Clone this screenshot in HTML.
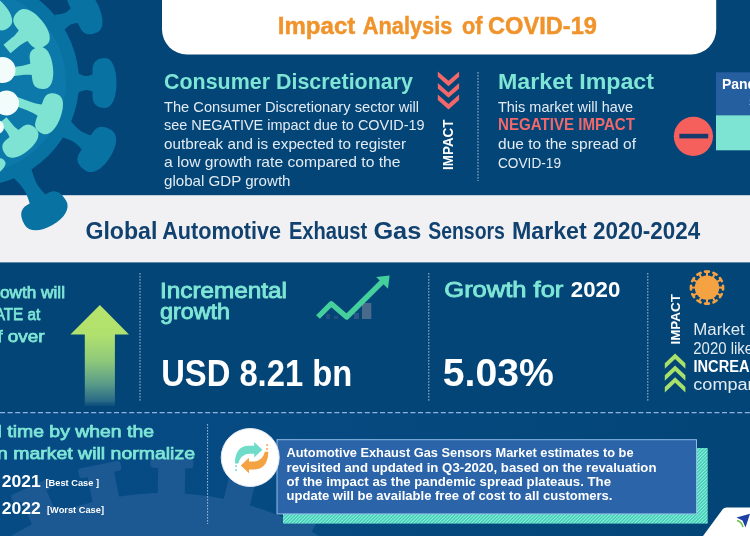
<!DOCTYPE html>
<html lang="en">
<head>
<meta charset="utf-8">
<title>Impact Analysis of COVID-19 - Global Automotive Exhaust Gas Sensors Market 2020-2024</title>
<style>
  html, body { margin: 0; padding: 0; background: #034577; }
  body { width: 750px; height: 536px; overflow: hidden; }
  svg { display: block; }
  text { font-family: "Liberation Sans", sans-serif; }
  .b { font-weight: bold; }
  .aq { fill: #7fe6d6; }
  .w { fill: #ffffff; }
  .sb { stroke: #7fe6d6; stroke-width: 0.75px; }
  .body { fill: #e3ebf3; font-size: 14.5px; }
  .body2 { fill: #e3ebf3; font-size: 16px; }
</style>
</head>
<body>
<svg width="750" height="536" viewBox="0 0 750 536">
  <defs>
    <linearGradient id="arrowG" x1="0" y1="0" x2="0" y2="1">
      <stop offset="0" stop-color="#b7e46a"/>
      <stop offset="0.3" stop-color="#b0e06e"/>
      <stop offset="0.55" stop-color="#8fc97a"/>
      <stop offset="0.78" stop-color="#5a9c88"/>
      <stop offset="0.95" stop-color="#2c6c88" stop-opacity="0.95"/>
      <stop offset="1" stop-color="#1f5f85" stop-opacity="0.3"/>
    </linearGradient>
    <linearGradient id="botG" x1="0" y1="0" x2="1" y2="0">
      <stop offset="0" stop-color="#074b85"/>
      <stop offset="0.4" stop-color="#064a82"/>
      <stop offset="0.75" stop-color="#04477a"/>
      <stop offset="1" stop-color="#034577"/>
    </linearGradient>
    <pattern id="hatch" width="2.4" height="2.4" patternUnits="userSpaceOnUse" patternTransform="rotate(45)">
      <rect width="2.4" height="2.4" fill="#3fcfb6"/>
      <rect width="0.9" height="2.4" fill="#9af0e0"/>
    </pattern>
  </defs>

  <!-- backgrounds -->
  <rect x="0" y="0" width="750" height="195" fill="#034577"/>
  <rect x="0" y="263" width="750" height="149" fill="#034577"/>
  <rect x="0" y="412" width="750" height="124" fill="#034577"/>
  <rect x="0" y="412" width="750" height="124" fill="url(#botG)"/>


  <!-- light band -->
  <rect x="0" y="195.2" width="750" height="67.2" fill="#f1f1f3"/>

  <!-- SECTION: virus top-left -->
  <g id="virus">
    <circle cx="-25" cy="82" r="104" fill="#0872a3"/>
    <path transform="translate(55.0 25.0) rotate(-25.8)" d="M4.3 -9.4 C10.5 -6.5 14.5 -6.5 14.5 -6.5 C14.5 -6.5 18.6 -6.5 24.7 -9.4 L24.7 9.4 C18.6 6.5 14.5 6.5 14.5 6.5 C14.5 6.5 10.5 6.5 4.3 9.4 Z M0 -6.5 H14.5 V6.5 H0 Z M21.4 -12.5 C21.4 -22.0 27.3 -25.0 35.1 -25.0 C42.5 -25.0 47.4 -15.0 47.4 0.0 C47.4 15.0 42.5 25.0 35.1 25.0 C27.3 25.0 21.4 22.0 21.4 12.5 Z" fill="#0872a3"/>
    <path transform="translate(70.0 83.0) rotate(0.0)" d="M7.5 -10.1 C12.9 -7.0 16.5 -7.0 16.5 -7.0 C16.5 -7.0 20.1 -7.0 25.5 -10.1 L25.5 10.1 C20.1 7.0 16.5 7.0 16.5 7.0 C16.5 7.0 12.9 7.0 7.5 10.1 Z M0 -7.0 H16.5 V7.0 H0 Z M22.5 -12.5 C22.5 -22.0 27.9 -25.0 35.1 -25.0 C41.9 -25.0 46.5 -15.0 46.5 0.0 C46.5 15.0 41.9 25.0 35.1 25.0 C27.9 25.0 22.5 22.0 22.5 12.5 Z" fill="#0872a3"/>
    <path transform="translate(55.0 122.0) rotate(33.1)" d="M13.1 -9.4 C21.4 -6.5 27.0 -6.5 27.0 -6.5 C27.0 -6.5 32.5 -6.5 40.8 -9.4 L40.8 9.4 C32.5 6.5 27.0 6.5 27.0 6.5 C27.0 6.5 21.4 6.5 13.1 9.4 Z M0 -6.5 H27.0 V6.5 H0 Z M37.3 -12.0 C37.3 -21.1 43.6 -24.0 52.0 -24.0 C60.0 -24.0 65.3 -14.4 65.3 0.0 C65.3 14.4 60.0 24.0 52.0 24.0 C43.6 24.0 37.3 21.1 37.3 12.0 Z" fill="#0872a3"/>
    <path transform="translate(15.0 160.0) rotate(60.0)" d="M14.9 -10.1 C25.0 -7.0 31.8 -7.0 31.8 -7.0 C31.8 -7.0 38.6 -7.0 48.8 -10.1 L48.8 10.1 C38.6 7.0 31.8 7.0 31.8 7.0 C31.8 7.0 25.0 7.0 14.9 10.1 Z M0 -7.0 H31.8 V7.0 H0 Z M45.0 -12.0 C45.0 -21.1 51.8 -24.0 60.8 -24.0 C69.3 -24.0 75.0 -14.4 75.0 0.0 C75.0 14.4 69.3 24.0 60.8 24.0 C51.8 24.0 45.0 21.1 45.0 12.0 Z" fill="#0872a3"/>
    <circle cx="-25" cy="82" r="91" fill="#0d79aa"/>
    <path transform="translate(7.0 49.0) rotate(-39.5)" d="M0 -5.5 H12.0 C12.0 -5.5 16.8 -5.5 24.0 -7.9 L24.0 7.9 C16.8 5.5 12.0 5.5 12.0 5.5 H0 Z M21.0 -11.0 C21.0 -19.4 26.4 -22.0 33.6 -22.0 C40.5 -22.0 45.0 -13.2 45.0 0.0 C45.0 13.2 40.5 22.0 33.6 22.0 C26.4 22.0 21.0 19.4 21.0 11.0 Z" fill="#7ee3d3"/>
    <path transform="translate(10.0 72.0) rotate(-7.1)" d="M0 -4.5 H12.0 C12.0 -4.5 16.8 -4.5 24.0 -6.5 L24.0 6.5 C16.8 4.5 12.0 4.5 12.0 4.5 H0 Z M21.2 -10.5 C21.2 -18.5 26.2 -21.0 32.8 -21.0 C39.1 -21.0 43.2 -12.6 43.2 0.0 C43.2 12.6 39.1 21.0 32.8 21.0 C26.2 21.0 21.2 18.5 21.2 10.5 Z" fill="#7ee3d3"/>
    <path transform="translate(15.0 101.0) rotate(20.4)" d="M0 -4.5 H14.5 C14.5 -4.5 20.4 -4.5 29.1 -6.5 L29.1 6.5 C20.4 4.5 14.5 4.5 14.5 4.5 H0 Z M26.3 -10.5 C26.3 -18.5 31.3 -21.0 37.9 -21.0 C44.2 -21.0 48.3 -12.6 48.3 0.0 C48.3 12.6 44.2 21.0 37.9 21.0 C31.3 21.0 26.3 18.5 26.3 10.5 Z" fill="#7ee3d3"/>
    <path transform="translate(3.0 120.0) rotate(50.7)" d="M0 -4.5 H10.1 C10.1 -4.5 14.1 -4.5 20.2 -6.5 L20.2 6.5 C14.1 4.5 10.1 4.5 10.1 4.5 H0 Z M17.4 -10.0 C17.4 -17.6 22.4 -20.0 29.0 -20.0 C35.2 -20.0 39.4 -12.0 39.4 0.0 C39.4 12.0 35.2 20.0 29.0 20.0 C22.4 20.0 17.4 17.6 17.4 10.0 Z" fill="#7ee3d3"/>
    <path transform="translate(-24.0 30.0) rotate(-42.0)" d="M0 -4.5 H9.3 C9.3 -4.5 13.1 -4.5 18.7 -6.5 L18.7 6.5 C13.1 4.5 9.3 4.5 9.3 4.5 H0 Z M15.9 -10.0 C15.9 -17.6 20.9 -20.0 27.5 -20.0 C33.7 -20.0 37.9 -12.0 37.9 0.0 C37.9 12.0 33.7 20.0 27.5 20.0 C20.9 20.0 15.9 17.6 15.9 10.0 Z" fill="#7ee3d3"/>
    <path transform="translate(-18.0 150.0) rotate(54.2)" d="M0 -4.0 H8.9 C8.9 -4.0 12.4 -4.0 17.7 -5.8 L17.7 5.8 C12.4 4.0 8.9 4.0 8.9 4.0 H0 Z M16.2 -6.0 C16.2 -10.6 18.9 -12.0 22.5 -12.0 C25.9 -12.0 28.2 -7.2 28.2 0.0 C28.2 7.2 25.9 12.0 22.5 12.0 C18.9 12.0 16.2 10.6 16.2 6.0 Z" fill="#7ee3d3"/>
    <circle cx="2.5" cy="70" r="13" fill="#f2fcfa"/>
    <circle cx="6.5" cy="103" r="12.5" fill="#f2fcfa"/>
    <circle cx="-3" cy="127" r="7" fill="#f2fcfa"/>
  </g>

  <!-- white title box -->
  <path d="M162 0 H716.2 V29.5 A25 25 0 0 1 691.2 54.5 H187 A25 25 0 0 1 162 29.5 Z" fill="#ffffff"/>
  <text y="34" class="b" font-size="24" fill="#f0932b" stroke="#f0932b" stroke-width="0.45"><tspan x="277.8" textLength="77.5" lengthAdjust="spacingAndGlyphs">Impact</tspan> <tspan x="362.8" textLength="89.5" lengthAdjust="spacingAndGlyphs">Analysis</tspan> <tspan x="462" textLength="20.5" lengthAdjust="spacingAndGlyphs">of</tspan> <tspan x="488" textLength="109" lengthAdjust="spacingAndGlyphs">COVID-19</tspan></text>

  <!-- SECTION: top text -->
  <g id="top">
    <text x="164" y="89.2" class="b aq" font-size="22.2" textLength="249" lengthAdjust="spacingAndGlyphs">Consumer Discretionary</text>
    <text x="164" y="111.5" class="body" textLength="255" lengthAdjust="spacingAndGlyphs">The Consumer Discretionary sector will</text>
    <text x="164" y="130" class="body" textLength="260.5" lengthAdjust="spacingAndGlyphs">see NEGATIVE impact due to COVID-19</text>
    <text x="164" y="148.5" class="body" textLength="242" lengthAdjust="spacingAndGlyphs">outbreak and is expected to register</text>
    <text x="164" y="167" class="body" textLength="236.5" lengthAdjust="spacingAndGlyphs">a low growth rate compared to the</text>
    <text x="164" y="185.5" class="body" textLength="126.5" lengthAdjust="spacingAndGlyphs">global GDP growth</text>

    <!-- red chevrons down -->
    <g fill="#f2686a">
      <path d="M437.8 71.4 L448.5 80.8 L459.1 71.4 V76.8 L448.5 86.2 L437.8 76.8 Z"/>
      <path d="M437.8 83.0 L448.5 92.4 L459.1 83.0 V88.4 L448.5 97.8 L437.8 88.4 Z"/>
      <path d="M437.8 94.6 L448.5 104.0 L459.1 94.6 V100.0 L448.5 109.4 L437.8 100.0 Z"/>
    </g>
    <text transform="translate(452.8 170) rotate(-90)" class="b w" font-size="14.5" textLength="50.5" lengthAdjust="spacingAndGlyphs">IMPACT</text>
    <line x1="478" y1="72" x2="478" y2="181" stroke="#9fb8d4" stroke-width="1" stroke-dasharray="1.7 1.3"/>

    <text x="498" y="89.2" class="b aq" font-size="22.2" textLength="156" lengthAdjust="spacingAndGlyphs">Market Impact</text>
    <text x="498" y="111.5" class="body" textLength="135" lengthAdjust="spacingAndGlyphs">This market will have</text>
    <text x="498" y="130.2" class="b" font-size="16.5" fill="#f2686a" textLength="137" lengthAdjust="spacingAndGlyphs">NEGATIVE IMPACT</text>
    <text x="498" y="148.9" class="body" textLength="138" lengthAdjust="spacingAndGlyphs">due to the spread of</text>
    <text x="498" y="167.6" class="body" textLength="63" lengthAdjust="spacingAndGlyphs">COVID-19</text>

    <!-- minus icon -->
    <circle cx="693.4" cy="136.3" r="19.6" fill="#f5605d"/>
    <rect x="679.4" y="133.8" width="28.8" height="4.6" fill="#163a6b"/>

    <!-- pandemic box -->
    <rect x="716" y="72.3" width="34" height="43" fill="#255fa0"/>
    <rect x="716" y="115.3" width="34" height="35" fill="#7de3d3"/>
    <text x="722" y="89.2" class="b w" font-size="14" textLength="66" lengthAdjust="spacingAndGlyphs">Pandemic</text>
    <text x="749" y="106" class="b w" font-size="14">status</text>
  </g>

  <!-- SECTION: band title -->
  <text y="238.6" class="b" font-size="23.5" fill="#10416f"><tspan x="85.4" textLength="72.0" lengthAdjust="spacingAndGlyphs">Global</tspan> <tspan x="162.2" textLength="118.9" lengthAdjust="spacingAndGlyphs">Automotive</tspan> <tspan x="288.9" textLength="78.4" lengthAdjust="spacingAndGlyphs">Exhaust</tspan> <tspan x="373.4" textLength="47.9" lengthAdjust="spacingAndGlyphs">Gas</tspan> <tspan x="428.2" textLength="76.7" lengthAdjust="spacingAndGlyphs">Sensors</tspan> <tspan x="511.9" textLength="74.9" lengthAdjust="spacingAndGlyphs">Market</tspan> <tspan x="593.0" textLength="107.2" lengthAdjust="spacingAndGlyphs">2020-2024</tspan></text>

  <!-- SECTION: middle -->
  <g id="mid">
    <text x="65" y="297.5" text-anchor="end" class="aq sb" font-size="17" textLength="80.4" lengthAdjust="spacingAndGlyphs">growth will</text>
    <text x="40.2" y="319.6" text-anchor="end" class="aq sb" font-size="17" textLength="117.7" lengthAdjust="spacingAndGlyphs">DECELERATE at</text>
    <text x="44.5" y="341.6" text-anchor="end" class="aq sb" font-size="17" textLength="133.5" lengthAdjust="spacingAndGlyphs">a CAGR of over</text>

    <!-- big green arrow -->
    <path d="M99.9 305 L129 334.6 H114.9 V406 H84.8 V334.6 H70.4 Z" fill="url(#arrowG)"/>

    <line x1="140" y1="273" x2="140" y2="402" stroke="#9fb8d4" stroke-width="1" stroke-dasharray="1.7 1.3"/>
    <line x1="428.8" y1="273" x2="428.8" y2="402" stroke="#9fb8d4" stroke-width="1" stroke-dasharray="1.7 1.3"/>
    <line x1="647.8" y1="273" x2="647.8" y2="402" stroke="#9fb8d4" stroke-width="1" stroke-dasharray="1.7 1.3"/>
    <line x1="0" y1="412.6" x2="750" y2="412.6" stroke="#8fb5dc" stroke-width="1.4" stroke-dasharray="5 2.6"/>

    <text x="160" y="298" class="aq" font-size="22" textLength="127" lengthAdjust="spacingAndGlyphs" stroke="#7fe6d6" stroke-width="0.9">Incremental</text>
    <text x="160" y="319.2" class="aq" font-size="22" textLength="70" lengthAdjust="spacingAndGlyphs" stroke="#7fe6d6" stroke-width="0.9">growth</text>
    <text x="161.2" y="386.3" class="b w" font-size="36.5" textLength="191" lengthAdjust="spacingAndGlyphs">USD 8.21 bn</text>

    <!-- trend icon -->
    <rect x="362" y="303" width="9.3" height="16" fill="#4a6a8c"/>
    <rect x="326" y="314" width="4" height="5" fill="#23517f"/>
    <rect x="334" y="316" width="4" height="3" fill="#23517f"/>
    <rect x="354" y="313" width="5" height="6" fill="#2b5783"/>
    <path d="M318 317 L331.3 303.7 L346.7 317 L383 281" fill="none" stroke="#45cf9c" stroke-width="5.3" stroke-linejoin="round"/>
    <path d="M389.6 275.4 L376.2 277 L388 288.8 Z" fill="#45cf9c"/>

    <text x="444.3" y="297" class="aq" font-size="22.5" textLength="119" lengthAdjust="spacingAndGlyphs" stroke="#7fe6d6" stroke-width="0.9">Growth for</text>
    <text x="570.8" y="297" class="b w" font-size="22.5" textLength="49.5" lengthAdjust="spacingAndGlyphs">2020</text>
    <text x="442.8" y="386.3" class="b w" font-size="38" textLength="111" lengthAdjust="spacingAndGlyphs">5.03%</text>

    <!-- orange virus icon -->
    <g id="ovirus" fill="#f5a243" stroke="#f5a243">
      <circle cx="707" cy="287.6" r="12.2" stroke="none"/>
      <line x1="707.0" y1="276.6" x2="707.0" y2="272.0" stroke-width="2"/>
      <line x1="705.1" y1="271.6" x2="708.9" y2="271.6" stroke-width="2.6" stroke-linecap="round"/>
      <line x1="712.5" y1="278.1" x2="714.8" y2="274.1" stroke-width="2"/>
      <line x1="713.4" y1="272.8" x2="716.6" y2="274.7" stroke-width="2.6" stroke-linecap="round"/>
      <line x1="716.5" y1="282.1" x2="720.5" y2="279.8" stroke-width="2"/>
      <line x1="719.9" y1="278.0" x2="721.8" y2="281.2" stroke-width="2.6" stroke-linecap="round"/>
      <line x1="718.0" y1="287.6" x2="722.6" y2="287.6" stroke-width="2"/>
      <line x1="723.0" y1="285.7" x2="723.0" y2="289.5" stroke-width="2.6" stroke-linecap="round"/>
      <line x1="716.5" y1="293.1" x2="720.5" y2="295.4" stroke-width="2"/>
      <line x1="721.8" y1="294.0" x2="719.9" y2="297.2" stroke-width="2.6" stroke-linecap="round"/>
      <line x1="712.5" y1="297.1" x2="714.8" y2="301.1" stroke-width="2"/>
      <line x1="716.6" y1="300.5" x2="713.4" y2="302.4" stroke-width="2.6" stroke-linecap="round"/>
      <line x1="707.0" y1="298.6" x2="707.0" y2="303.2" stroke-width="2"/>
      <line x1="708.9" y1="303.6" x2="705.1" y2="303.6" stroke-width="2.6" stroke-linecap="round"/>
      <line x1="701.5" y1="297.1" x2="699.2" y2="301.1" stroke-width="2"/>
      <line x1="700.6" y1="302.4" x2="697.4" y2="300.5" stroke-width="2.6" stroke-linecap="round"/>
      <line x1="697.5" y1="293.1" x2="693.5" y2="295.4" stroke-width="2"/>
      <line x1="694.1" y1="297.2" x2="692.2" y2="294.0" stroke-width="2.6" stroke-linecap="round"/>
      <line x1="696.0" y1="287.6" x2="691.4" y2="287.6" stroke-width="2"/>
      <line x1="691.0" y1="289.5" x2="691.0" y2="285.7" stroke-width="2.6" stroke-linecap="round"/>
      <line x1="697.5" y1="282.1" x2="693.5" y2="279.8" stroke-width="2"/>
      <line x1="692.2" y1="281.2" x2="694.1" y2="278.0" stroke-width="2.6" stroke-linecap="round"/>
      <line x1="701.5" y1="278.1" x2="699.2" y2="274.1" stroke-width="2"/>
      <line x1="697.4" y1="274.7" x2="700.6" y2="272.8" stroke-width="2.6" stroke-linecap="round"/>
    </g>

    <text transform="translate(679.8 344.6) rotate(-90)" class="b w" font-size="13.3" textLength="50.6" lengthAdjust="spacingAndGlyphs">IMPACT</text>
    <g fill="#a8e06a">
      <path d="M675.1 353.5 L685.4 363.3 V368.8 L675.1 359.0 L664.8 368.8 V363.3 Z"/>
      <path d="M675.1 365.4 L685.4 375.2 V380.7 L675.1 370.9 L664.8 380.7 V375.2 Z"/>
      <path d="M675.1 377.3 L685.4 387.1 V392.6 L675.1 382.8 L664.8 392.6 V387.1 Z"/>
    </g>
    <text x="693.3" y="335.1" class="body2" textLength="124.5" lengthAdjust="spacingAndGlyphs">Market growth in</text>
    <text x="693.3" y="353.8" class="body2" textLength="108.0" lengthAdjust="spacingAndGlyphs">2020 likely to be</text>
    <text x="693.5" y="372" class="b w" font-size="16" textLength="91.7" lengthAdjust="spacingAndGlyphs">INCREASING</text>
    <text x="693.3" y="389.5" class="body2" textLength="100.5" lengthAdjust="spacingAndGlyphs">compared to</text>
  </g>

  <!-- SECTION: bottom -->
  <g id="bot">
    <!-- faint virus silhouette -->
    <g id="ghost" fill="#1c5992">
      <circle cx="165" cy="790" r="297"/>
      <g transform="rotate(-37 165 790)"><rect x="151.5" y="464" width="27" height="34"/><rect x="143.5" y="458" width="43" height="10" rx="3"/></g>
      <g transform="rotate(-24 165 790)"><rect x="151.5" y="464" width="27" height="34"/><rect x="143.5" y="458" width="43" height="10" rx="3"/></g>
      <g transform="rotate(-11.5 165 790)"><rect x="151.5" y="464" width="27" height="34"/><rect x="143.5" y="458" width="43" height="10" rx="3"/></g>
      <g transform="rotate(1.2 165 790)"><rect x="151.5" y="464" width="27" height="34"/><rect x="143.5" y="458" width="43" height="10" rx="3"/></g>
      <g transform="rotate(14 165 790)"><rect x="151.5" y="464" width="27" height="34"/><rect x="143.5" y="458" width="43" height="10" rx="3"/></g>
      <g transform="rotate(27 165 790)"><rect x="151.5" y="464" width="27" height="34"/><rect x="143.5" y="458" width="43" height="10" rx="3"/></g>
    </g>

    <text x="154" y="437" text-anchor="end" class="aq sb" font-size="17" textLength="238.4" lengthAdjust="spacingAndGlyphs">Estimated time by when the</text>
    <text x="195" y="458.5" text-anchor="end" class="aq sb" font-size="17" textLength="331.2" lengthAdjust="spacingAndGlyphs">pandemic-driven market will normalize</text>
    <text x="1.8" y="487" class="b w" font-size="17" textLength="39" lengthAdjust="spacingAndGlyphs">2021</text>
    <text x="45.5" y="485.5" class="b w" font-size="9.5" textLength="53.5" lengthAdjust="spacingAndGlyphs">[Best Case ]</text>
    <text x="1.8" y="514" class="b w" font-size="17" textLength="39" lengthAdjust="spacingAndGlyphs">2022</text>
    <text x="47" y="512.5" class="b w" font-size="9.5" textLength="57" lengthAdjust="spacingAndGlyphs">[Worst Case]</text>

    <line x1="207.6" y1="424" x2="207.6" y2="524" stroke="#9fb8d4" stroke-width="1" stroke-dasharray="1.7 1.3"/>

    <!-- note box -->
    <rect x="283" y="448" width="424.7" height="75.6" fill="url(#hatch)"/>
    <rect x="277" y="439.7" width="419.5" height="74.2" fill="#2b64a8" stroke="#8fbbe6" stroke-width="1"/>
    <text x="286.5" y="457.2" class="b w" font-size="12.8" textLength="347" lengthAdjust="spacingAndGlyphs">Automotive Exhaust Gas Sensors Market estimates to be</text>
    <text x="286.5" y="471.5" class="b w" font-size="12.8" textLength="370" lengthAdjust="spacingAndGlyphs">revisited and updated in Q3-2020, based on the revaluation</text>
    <text x="286.5" y="485.8" class="b w" font-size="12.8" textLength="324.5" lengthAdjust="spacingAndGlyphs">of the impact as the pandemic spread plateaus. The</text>
    <text x="286.5" y="500.1" class="b w" font-size="12.8" textLength="326" lengthAdjust="spacingAndGlyphs">update will be available free of cost to all customers.</text>

    <!-- circle icon -->
    <circle cx="250.2" cy="457.5" r="29" fill="#ffffff" stroke="#e3e9f0" stroke-width="1"/>
    <g id="swap">
      <path id="swA" d="M234.9 463.4 C234.9 452 240 445.8 248.5 445.8 H254.2 V442 L262.4 449.7 L254.2 457.4 V453.7 H250 C244 453.7 240 457 238.4 463.4 Z" fill="#6fdcc9"/>
      <rect x="235.3" y="465.3" width="1.6" height="1.8" fill="#6fdcc9"/>
      <rect x="235.3" y="469.3" width="1.6" height="1.8" fill="#6fdcc9"/>
      <g transform="rotate(180 251.6 457.6)">
        <path d="M234.9 463.4 C234.9 452 240 445.8 248.5 445.8 H254.2 V442 L262.4 449.7 L254.2 457.4 V453.7 H250 C244 453.7 240 457 238.4 463.4 Z" fill="#f5a243"/>
        <rect x="235.3" y="465.3" width="1.6" height="1.8" fill="#f5a243"/>
        <rect x="235.3" y="469.3" width="1.6" height="1.8" fill="#f5a243"/>
      </g>
    </g>

    <!-- logo tab -->
    <path d="M703 536 L722.5 509.5 Q724 507.6 726.5 507.6 H750 V536 Z" fill="#ffffff"/>
    <path d="M736.5 517.5 L750 513.8 L745.5 527.5 L742.5 520.5 Z" fill="#1e3fa8"/>
    <path d="M737 520.5 Q741.5 521.5 743 527" fill="none" stroke="#6cc24a" stroke-width="1.6"/>
  </g>
</svg>
</body>
</html>
